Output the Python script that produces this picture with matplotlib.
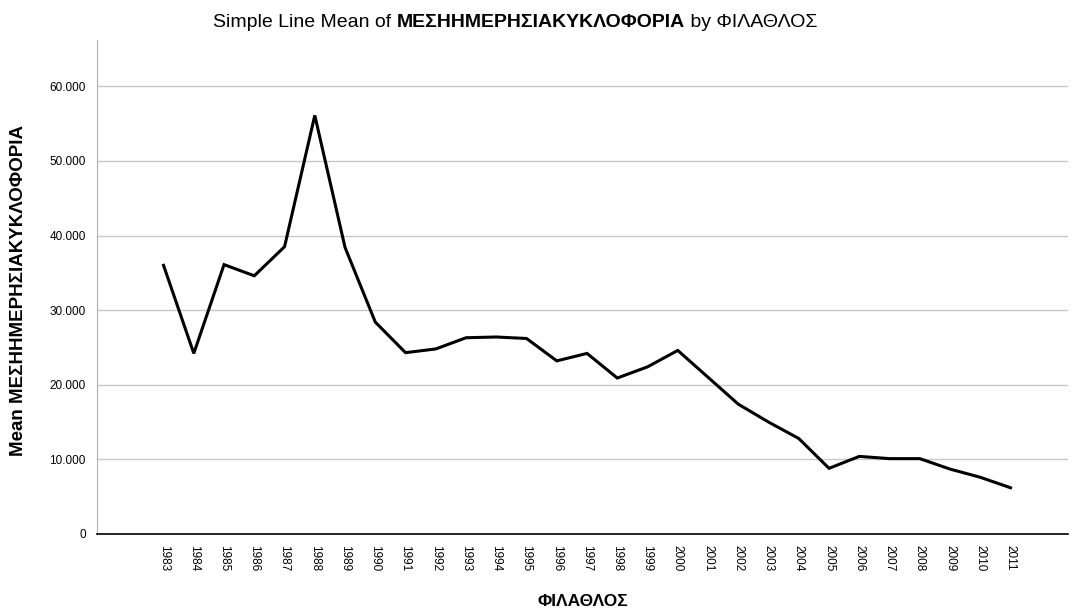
import matplotlib
matplotlib.use('Agg')
import matplotlib.pyplot as plt
from matplotlib.ticker import FuncFormatter, MultipleLocator

plt.rcParams['font.family'] = ['Liberation Sans', 'DejaVu Sans']

# Years on the x axis and mean midday traffic
years = list(range(1983, 2012))
traffic = [36000, 24200, 36100, 34600, 38500, 56100, 38400, 28400, 24300, 24800,
           26300, 26400, 26200, 23200, 24200, 20900, 22400, 24600, 21000, 17400,
           15000, 12800, 8800, 10400, 10100, 10100, 8700, 7600, 6200]

var_y = 'ΜΕΣΗΗΜΕΡΗΣΙΑΚΥΚΛΟΦΟΡΙΑ'
var_x = 'ΦΙΛΑΘΛΟΣ'

fig = plt.figure(figsize=(10.71, 6.14), dpi=100)
ax = fig.add_axes([97 / 1071, 1 - 534 / 614, 971 / 1071, 494 / 614])

pos = list(range(len(years)))
ax.plot(pos, traffic, color='black', lw=2.2, solid_joinstyle='miter')

ax.set_xlim(-2.2, len(years) - 1 + 1.9)
ax.set_ylim(0, 66200)
ax.yaxis.set_major_locator(MultipleLocator(10000))
ax.yaxis.set_major_formatter(FuncFormatter(lambda v, p: f'{v:,.0f}'.replace(',', '.')))
ax.set_xticks(pos)
ax.set_xticklabels([str(y) for y in years], rotation=270, fontsize=8.5)
ax.tick_params(axis='x', length=0, pad=8)
ax.tick_params(axis='y', length=0, labelsize=8.5, pad=8)

ax.grid(axis='y', color='#c8c8c8', lw=1)
ax.set_axisbelow(True)
for s in ['top', 'right']:
    ax.spines[s].set_visible(False)
ax.spines['left'].set_color('#b0b0b0')
ax.spines['left'].set_linewidth(0.8)
ax.spines['bottom'].set_color('black')
ax.spines['bottom'].set_linewidth(1.2)

fig.text(583 / 1071, 1 - 601 / 614, var_x, fontsize=12.5, fontweight='bold',
         ha='center', va='center')
fig.text(19 / 1071, 1 - 290 / 614, 'Mean ' + var_y, fontsize=13.5, fontweight='bold',
         ha='center', va='center', rotation=90)

# Title with the variable name in bold
t1 = fig.text(213 / 1071, 1 - 27 / 614, 'Simple Line Mean of ', fontsize=14)
t2 = ax.annotate(var_y, xy=(1, 0), xycoords=t1, va='bottom', fontsize=14,
                 fontweight='bold', annotation_clip=False)
ax.annotate(' by ' + var_x, xy=(1, 0), xycoords=t2, va='bottom', fontsize=14,
            annotation_clip=False)

fig.savefig('out.png', dpi=100)
